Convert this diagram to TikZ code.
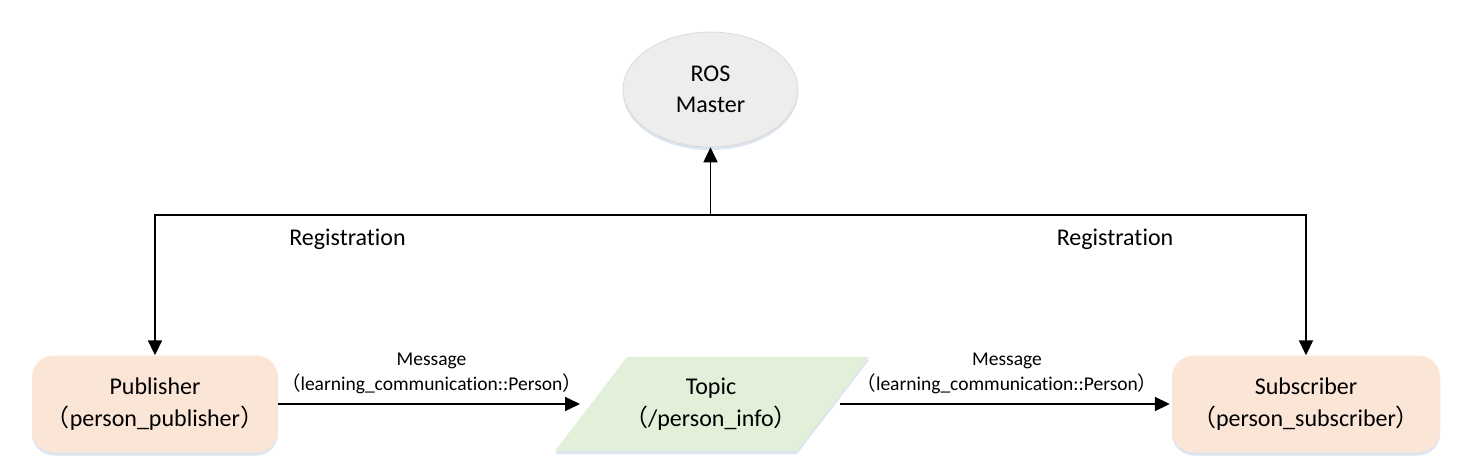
\documentclass[tikz,border=0pt]{standalone}
\usepackage{fontspec}
\setmainfont{Carlito}[Ligatures=NoCommon]
\newfontfamily\cjkfont{Noto Sans CJK SC}
\usetikzlibrary{shapes.geometric,arrows.meta,shadows}
\newcommand{\fwl}{{\cjkfont （}}
\newcommand{\fwr}{{\cjkfont ）}}
\definecolor{pubfill}{HTML}{FBE5D6}
\definecolor{topicfill}{HTML}{E2F0D9}
\definecolor{masterfill}{HTML}{EDEDED}
\definecolor{masterline}{HTML}{D6D6D6}
\definecolor{shadowc}{HTML}{DCE4EF}
\begin{document}
\begin{tikzpicture}[x=1pt,y=-1pt,
  arr/.style={line width=1.8pt, -{Triangle[length=15pt,width=14pt]}},
  bigtext/.style={font=\fontsize{24}{32}\selectfont, align=center},
  smalltext/.style={font=\fontsize{19.5}{25}\selectfont, align=center},
  soft/.style={drop shadow={shadow xshift=0pt, shadow yshift=-3pt, fill=shadowc, opacity=1}},
  nodebox/.style={rounded corners=22pt, fill=pubfill, minimum height=97pt, bigtext, soft, inner sep=0pt}]
\useasboundingbox (0,0) rectangle (1459,464);
\fill[white] (0,0) rectangle (1459,464);
\node[ellipse, minimum width=175pt, minimum height=115pt, fill=masterfill, draw=masterline, line width=0.6pt, bigtext, font=\fontsize{24}{31}\selectfont, soft, inner sep=0pt] (master) at (710.5,89.5) {ROS\\Master};
\node[nodebox, minimum width=246pt] (pub) at (155,404) {Publisher\\\fwl person\_publisher\fwr};
\node[nodebox, minimum width=268pt] (sub) at (1306,404) {Subscriber\\\fwl person\_subscriber\fwr};
% Topic parallelogram
\fill[topicfill, soft] (555,451) -- (797,451) -- (869,357) -- (627,357) -- cycle;
\node[bigtext, inner sep=0pt] (topic) at (711,404) {Topic\\\fwl/person\_info\fwr};
\coordinate (topicW) at (591,404);
\coordinate (topicE) at (833,404);
\coordinate (hub) at (710.5,215);
\draw[arr] (hub) -- (master.south);
\draw[arr] (hub) -| (pub.north);
\draw[arr] (hub) -| (sub.north);
\draw[arr, shorten >=11pt] (pub.east) -- (topicW);
\draw[arr, shorten <=7pt, shorten >=2pt] (topicE) -- (sub.west);
\node[smalltext] (msgA) at (431.5,373.5) {Message\\\fwl learning\_communication::Person\fwr};
\node[smalltext] (msgB) at (1007,373.5) {Message\\\fwl learning\_communication::Person\fwr};
\node[bigtext] (regA) at (347.5,239) {Registration};
\node[bigtext] (regB) at (1115,239) {Registration};
\end{tikzpicture}
\end{document}
